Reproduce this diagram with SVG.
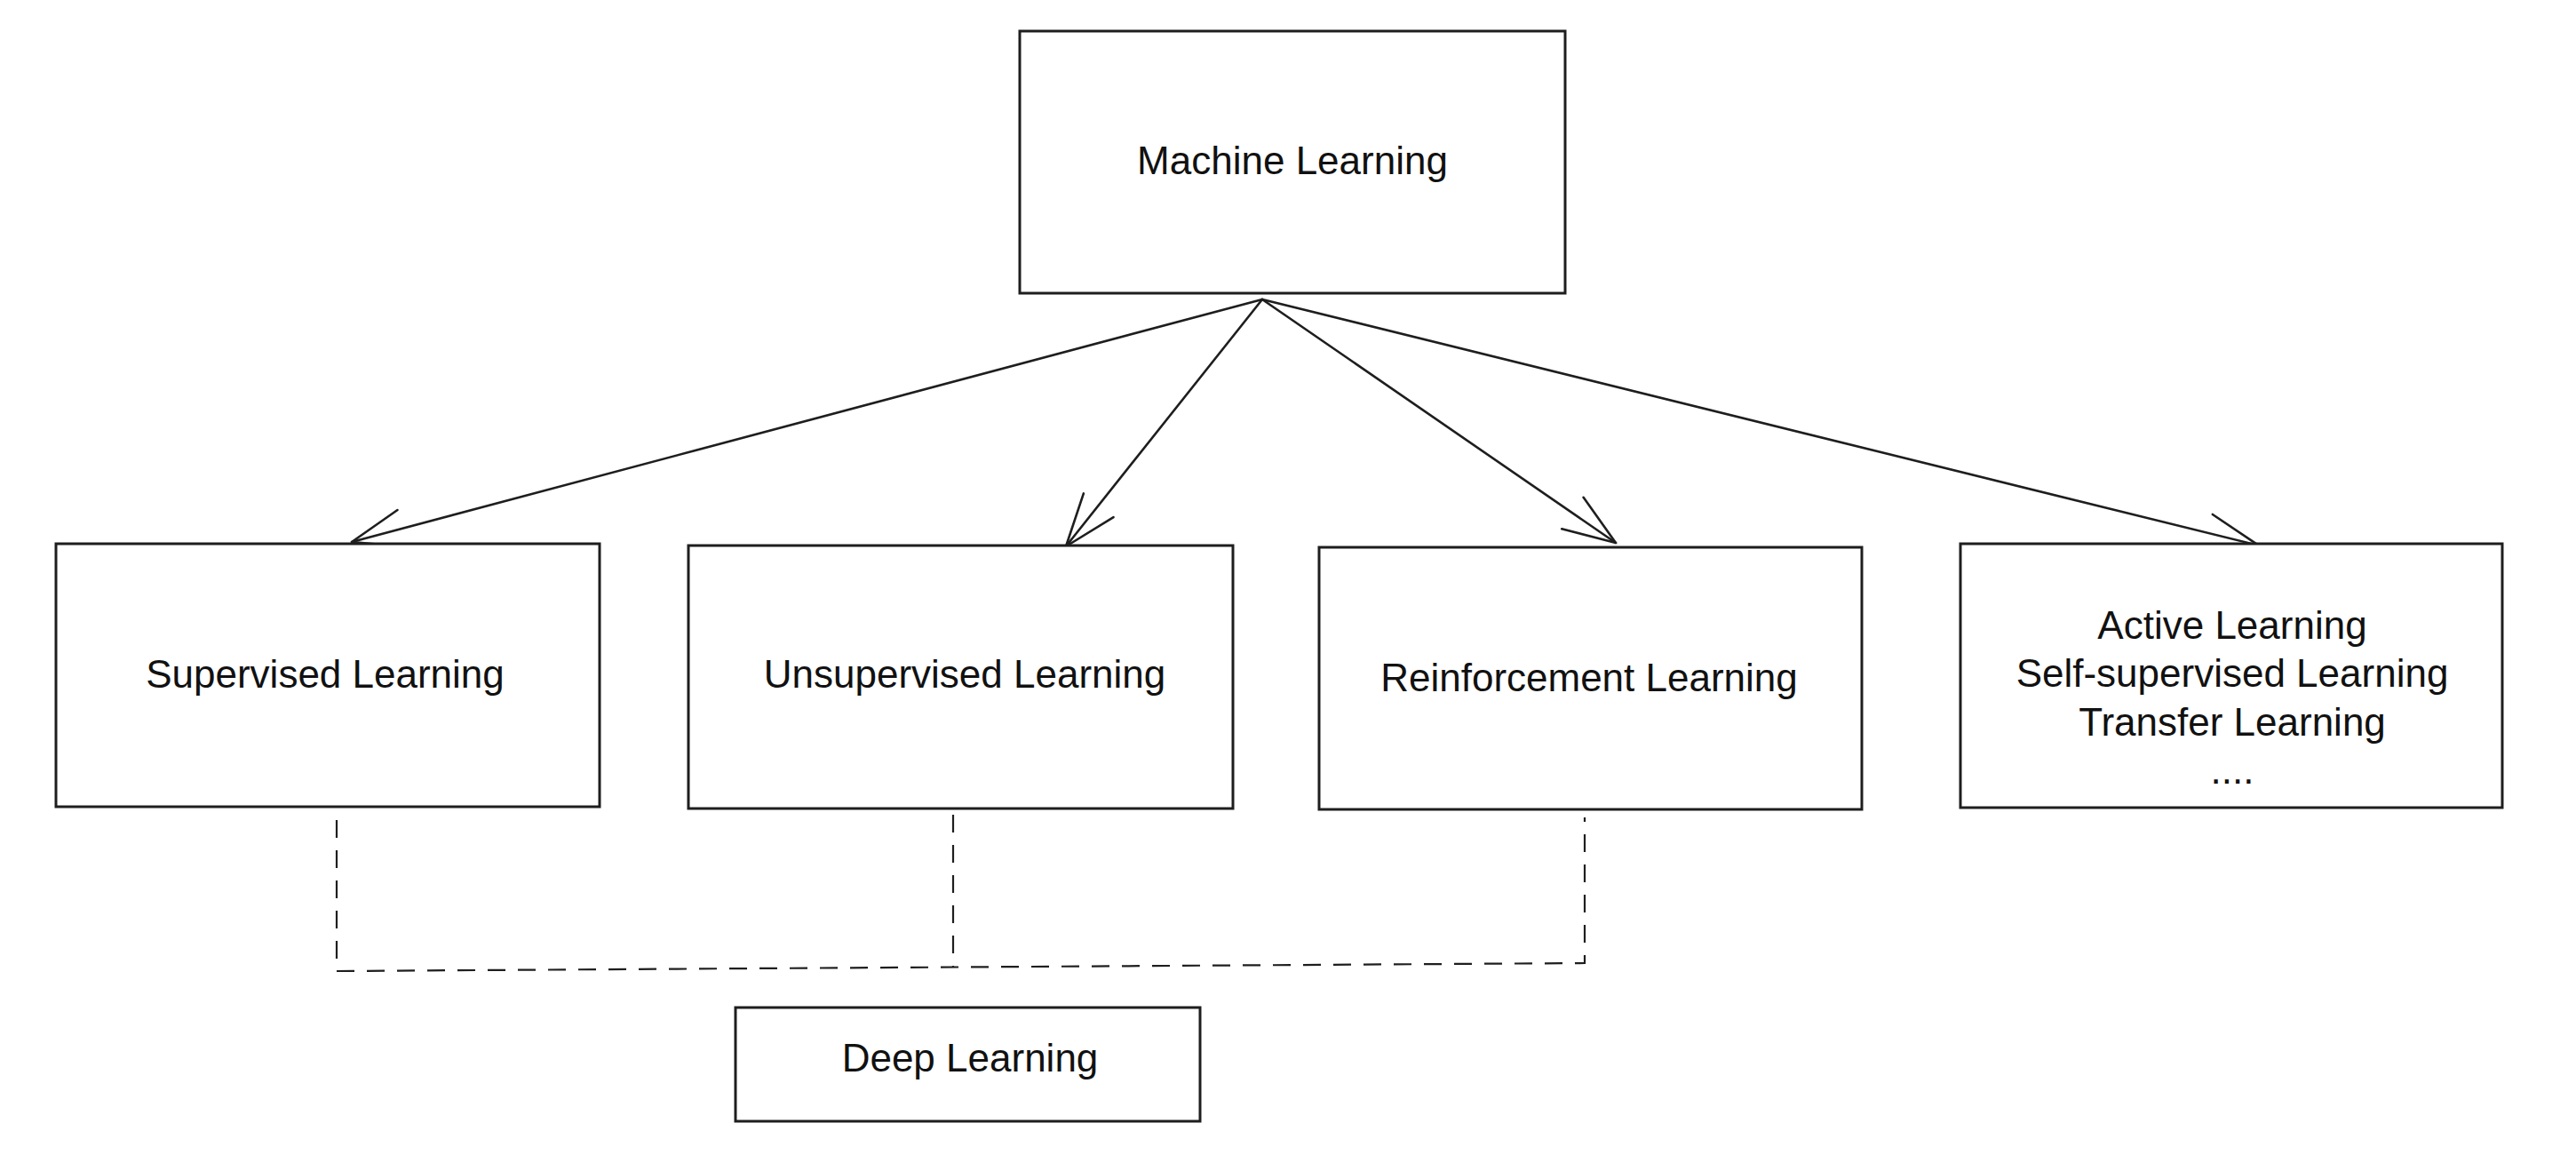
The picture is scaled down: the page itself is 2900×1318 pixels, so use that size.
<svg xmlns="http://www.w3.org/2000/svg" width="2900" height="1318" viewBox="0 0 2900 1318">
  <style>
    .box { fill: #ffffff; stroke: #1e1e1e; stroke-width: 3; }
    .lbl { font-family: "Liberation Sans", Arial, sans-serif; font-size: 44px; fill: #111111; text-anchor: middle; }
    .arrow { fill: none; stroke: #1e1e1e; stroke-width: 2.6; stroke-linecap: round; }
    .dash { fill: none; stroke: #1e1e1e; stroke-width: 2.2; stroke-dasharray: 20 14; }
  </style>
  <defs>
    <marker id="head" viewBox="-70 -30 80 60" markerWidth="80" markerHeight="60" refX="0" refY="0" orient="auto" markerUnits="userSpaceOnUse">
      <path d="M -59 -21.5 L 0 0 L -59 21.5" fill="none" stroke="#1e1e1e" stroke-width="2.6" stroke-linecap="round" stroke-linejoin="round"/>
    </marker>
  </defs>
  <rect width="2900" height="1318" fill="#ffffff"/>

  <g id="connectors">
    <path class="arrow" d="M 1421 337 L 396 610" marker-end="url(#head)"/>
    <path class="arrow" d="M 1421 337 L 1200 615" marker-end="url(#head)"/>
    <path class="arrow" d="M 1421 337 L 1819 611" marker-end="url(#head)"/>
    <path class="arrow" d="M 1421 337 L 2543 614" marker-end="url(#head)"/>
    <path class="dash" d="M 379 923 L 379 1093 L 1784 1084 L 1784 920"/>
    <path class="dash" d="M 1073 917 L 1073 1089"/>
  </g>

  <g id="machine-learning">
    <rect class="box" x="1148" y="35" width="614" height="295"/>
    <text class="lbl" x="1455" y="196">Machine Learning</text>
  </g>

  <g id="supervised-learning">
    <rect class="box" x="63" y="612" width="612" height="296"/>
    <text class="lbl" x="366" y="774">Supervised Learning</text>
  </g>

  <g id="unsupervised-learning">
    <rect class="box" x="775" y="614" width="613" height="296"/>
    <text class="lbl" x="1086" y="774">Unsupervised Learning</text>
  </g>

  <g id="reinforcement-learning">
    <rect class="box" x="1485" y="616" width="611" height="295"/>
    <text class="lbl" x="1789" y="778">Reinforcement Learning</text>
  </g>

  <g id="other-learning">
    <rect class="box" x="2207" y="612" width="610" height="297"/>
    <text class="lbl" x="2513" y="719">Active Learning</text>
    <text class="lbl" x="2513" y="773">Self-supervised Learning</text>
    <text class="lbl" x="2513" y="828">Transfer Learning</text>
    <text class="lbl" x="2513" y="882">....</text>
  </g>

  <g id="deep-learning">
    <rect class="box" x="828" y="1134" width="523" height="128"/>
    <text class="lbl" x="1092" y="1206">Deep Learning</text>
  </g>
</svg>
